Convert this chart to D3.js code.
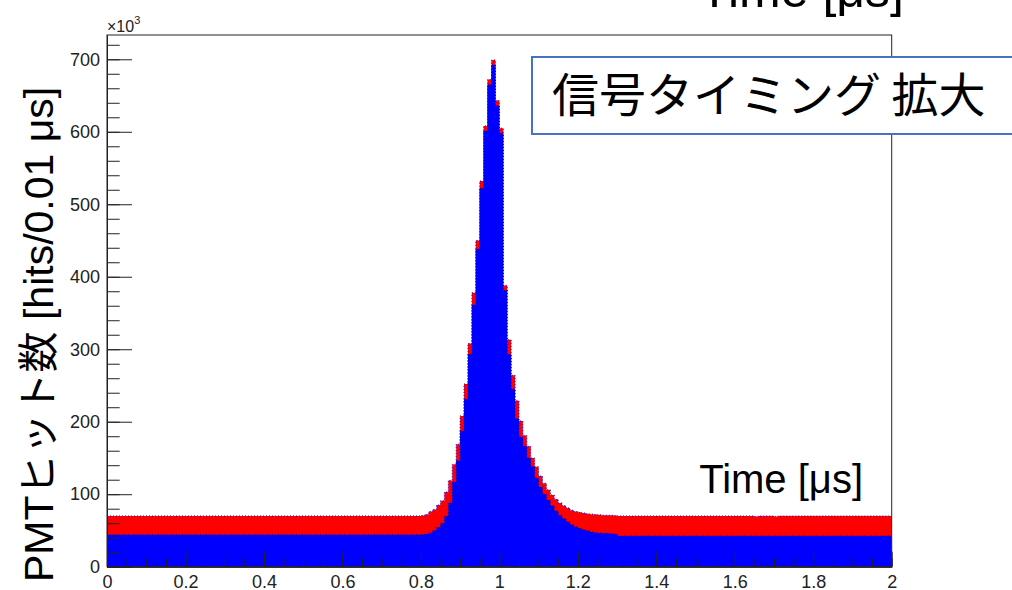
<!DOCTYPE html>
<html>
<head>
<meta charset="utf-8">
<script src="https://cdn.jsdelivr.net/npm/d3@7"></script>
<style>
  body { margin: 0; background: #fff; }
  svg { display: block; }
</style>
</head>
<body>
<svg id="chart" width="1012" height="590"></svg>
<script>
// histogram: 200 bins of 0.01 us from 0 to 2 us, counts in units of 10^3
var binWidth = 0.01;

// total hits (red)
var totalHits = [
  70,70,70,70,70,70,70,70,70,70, 70,70,70,70,70,70,70,70,70,70,
  70,70,70,70,70,70,70,70,70,70, 70,70,70,70,70,70,70,70,70,70,
  70,70,70,70,70,70,70,70,70,70, 70,70,70,70,70,70,70,70,70,70,
  70,70,70,70,70,70,70,70,70,70, 70,70,70,70,70,70,70,70,70,70,
  70.5,72,76,79,85,91,103,119,141,169, 208,252,308,378,450,532,608,672,699,643,
  605,388,313,264,229,201,181,166,150,138, 125,115,106,99,93,88,84,81,78,76,
  75,74,73,72.5,72,71.5,71,71,71,70.5, 70,70,70,70,70,70,70,70,70,70,
  70,70,70,70,70,70,70,70,70,70, 70,70,70,70,70,70,70,70,70,70,
  70,70,70,70,70,69.4,70,70,70,70, 69.4,70,70,70,70,70,70,70,70,70,
  70,70,70,70,70,70,70,70,70,70, 70,70,70,70,70,70,70,70,70,70
];

// component hits (blue)
var partHits = [
  44,44,44,44,44,44,44,44,44,44, 44,44,44,44,44,44,44,44,44,44,
  44,44,44,44,44,44,44,44,44,44, 44,44,44,44,44,44,44,44,44,44,
  44,44,44,44,44,44,44,44,44,44, 44,44,44,44,44,44,44,44,44,44,
  44,44,44,44,44,44,44,44,44,44, 44,44,44,44,44,44,44,44,44,44,
  44.5,45,47,50,54,60,70,88,117,146, 187,231,293,361,438,522,601,665,692,636,
  598,381,293,245,204,179,166,150,138,122, 110,100,92,84,77,71,66,62,58,55,
  53,51,49.5,48,47,46.5,46,46,45.5,45, 42.5,42.5,42.5,42.5,42.5,42.5,42.5,42.5,42.5,42.5,
  42.5,42.5,42.5,42.5,42.5,42.5,42.5,42.5,42.5,42.5, 42.5,42.5,42.5,42.5,42.5,42.5,42.5,42.5,42.5,42.5,
  42.5,42.5,42.5,42.5,42.5,42.5,42.5,42.5,42.5,42.5, 42.5,42.5,42.5,42.5,42.5,42.5,42.5,42.5,42.5,42.5,
  42.5,42.5,42.5,42.5,42.5,42.5,42.5,42.5,42.5,42.5, 42.5,42.5,42.5,42.5,42.5,42.5,42.5,42.5,42.5,42.5
];

var xMajor = [0, 0.2, 0.4, 0.6, 0.8, 1, 1.2, 1.4, 1.6, 1.8, 2];
var yMajor = [0, 100, 200, 300, 400, 500, 600, 700];

var L = 107, R = 891.7, T = 35, B = 566.7;
var svg = d3.select("#chart");

var x = d3.scaleLinear().domain([0, 2]).range([L, R]);
var y = d3.scaleLinear().domain([0, 733.5]).range([B, T]);

// bin edges -> points for step curves (repeat last value at the right edge)
function toSteps(vals) {
  var pts = vals.map(function (v, i) { return { t: i * binWidth, v: v }; });
  pts.push({ t: vals.length * binWidth, v: vals[vals.length - 1] });
  return pts;
}

svg.append("clipPath").attr("id", "plotclip")
  .append("rect").attr("x", L).attr("y", T).attr("width", R - L).attr("height", B - T);

var plot = svg.append("g").attr("clip-path", "url(#plotclip)");

var area = d3.area().curve(d3.curveStepAfter)
  .x(function (d) { return x(d.t); })
  .y0(B)
  .y1(function (d) { return y(d.v); });
var line = d3.line().curve(d3.curveStepAfter)
  .x(function (d) { return x(d.t); })
  .y(function (d) { return y(d.v); });

plot.append("path").datum(toSteps(totalHits)).attr("d", area).attr("fill", "#ff0000");
plot.append("path").datum(toSteps(totalHits)).attr("d", line)
  .attr("fill", "none").attr("stroke", "#0000ff").attr("stroke-width", 1).attr("stroke-dasharray", "1,2");
plot.append("path").datum(toSteps(partHits)).attr("d", area).attr("fill", "#0000ff");
plot.append("path").datum(toSteps(partHits)).attr("d", line)
  .attr("fill", "none").attr("stroke", "#000090").attr("stroke-width", 1).attr("stroke-dasharray", "1,2");

// frame
svg.append("rect").attr("x", L).attr("y", T).attr("width", R - L).attr("height", B - T)
  .attr("fill", "none").attr("stroke", "#222").attr("stroke-width", 1);

// axes, ROOT style ticks inside the frame
var axisFont = "Liberation Sans, Arial, sans-serif";

var yAxis = svg.append("g").attr("transform", "translate(" + L + ",0)")
  .call(d3.axisLeft(y).tickValues(yMajor).tickSizeInner(-25).tickSizeOuter(0).tickPadding(7)
    .tickFormat(d3.format("d")));
var yMinor = svg.append("g").attr("transform", "translate(" + L + ",0)")
  .call(d3.axisLeft(y).tickValues(d3.range(0, 733, 20)).tickSizeInner(-12.7).tickSizeOuter(0).tickFormat(""));

var xAxis = svg.append("g").attr("transform", "translate(0," + B + ")")
  .call(d3.axisBottom(x).tickValues(xMajor).tickSizeInner(-15).tickSizeOuter(0).tickPadding(9)
    .tickFormat(function (d) { return String(+d.toFixed(1)); }));
var xMinor = svg.append("g").attr("transform", "translate(0," + B + ")")
  .call(d3.axisBottom(x).tickValues(d3.range(0, 2.001, 0.05)).tickSizeInner(-8.5).tickSizeOuter(0).tickFormat(""));

[yAxis, yMinor, xAxis, xMinor].forEach(function (g) {
  g.select(".domain").attr("stroke", "#222");
  g.selectAll(".tick line").attr("stroke", "#222");
  g.selectAll("text").attr("font-family", axisFont).attr("font-size", 18).attr("fill", "#222");
});

// x10^3 multiplier
var mult = svg.append("text").attr("x", L).attr("y", 32)
  .attr("font-family", axisFont).attr("font-size", 16).attr("fill", "#222");
mult.append("tspan").text("×10");
mult.append("tspan").attr("dy", -8).attr("font-size", 11).text("3");

// y axis title
var jpFont = "Liberation Sans, 'Noto Sans CJK JP', sans-serif";
svg.append("text")
  .attr("transform", "translate(53,582) rotate(-90)")
  .attr("font-family", jpFont).attr("font-size", 41).attr("fill", "#000")
  .text("PMTヒット数 [hits/0.01 μs]");

// x axis titles
svg.append("text").attr("x", 863).attr("y", 493).attr("text-anchor", "end")
  .attr("font-family", axisFont).attr("font-size", 40).attr("fill", "#000")
  .text("Time [μs]");
svg.append("text").attr("x", 904).attr("y", 7).attr("text-anchor", "end")
  .attr("font-family", axisFont).attr("font-size", 50).attr("fill", "#000")
  .text("Time [μs]");

// annotation box
svg.append("rect").attr("x", 532).attr("y", 57).attr("width", 500).attr("height", 77)
  .attr("fill", "#fff").attr("stroke", "#4472c4").attr("stroke-width", 2);
svg.append("text").attr("x", 552).attr("y", 112)
  .attr("font-family", "'Noto Sans CJK JP', sans-serif").attr("font-size", 47).attr("fill", "#000")
  .text("信号タイミング 拡大");
</script>
</body>
</html>
